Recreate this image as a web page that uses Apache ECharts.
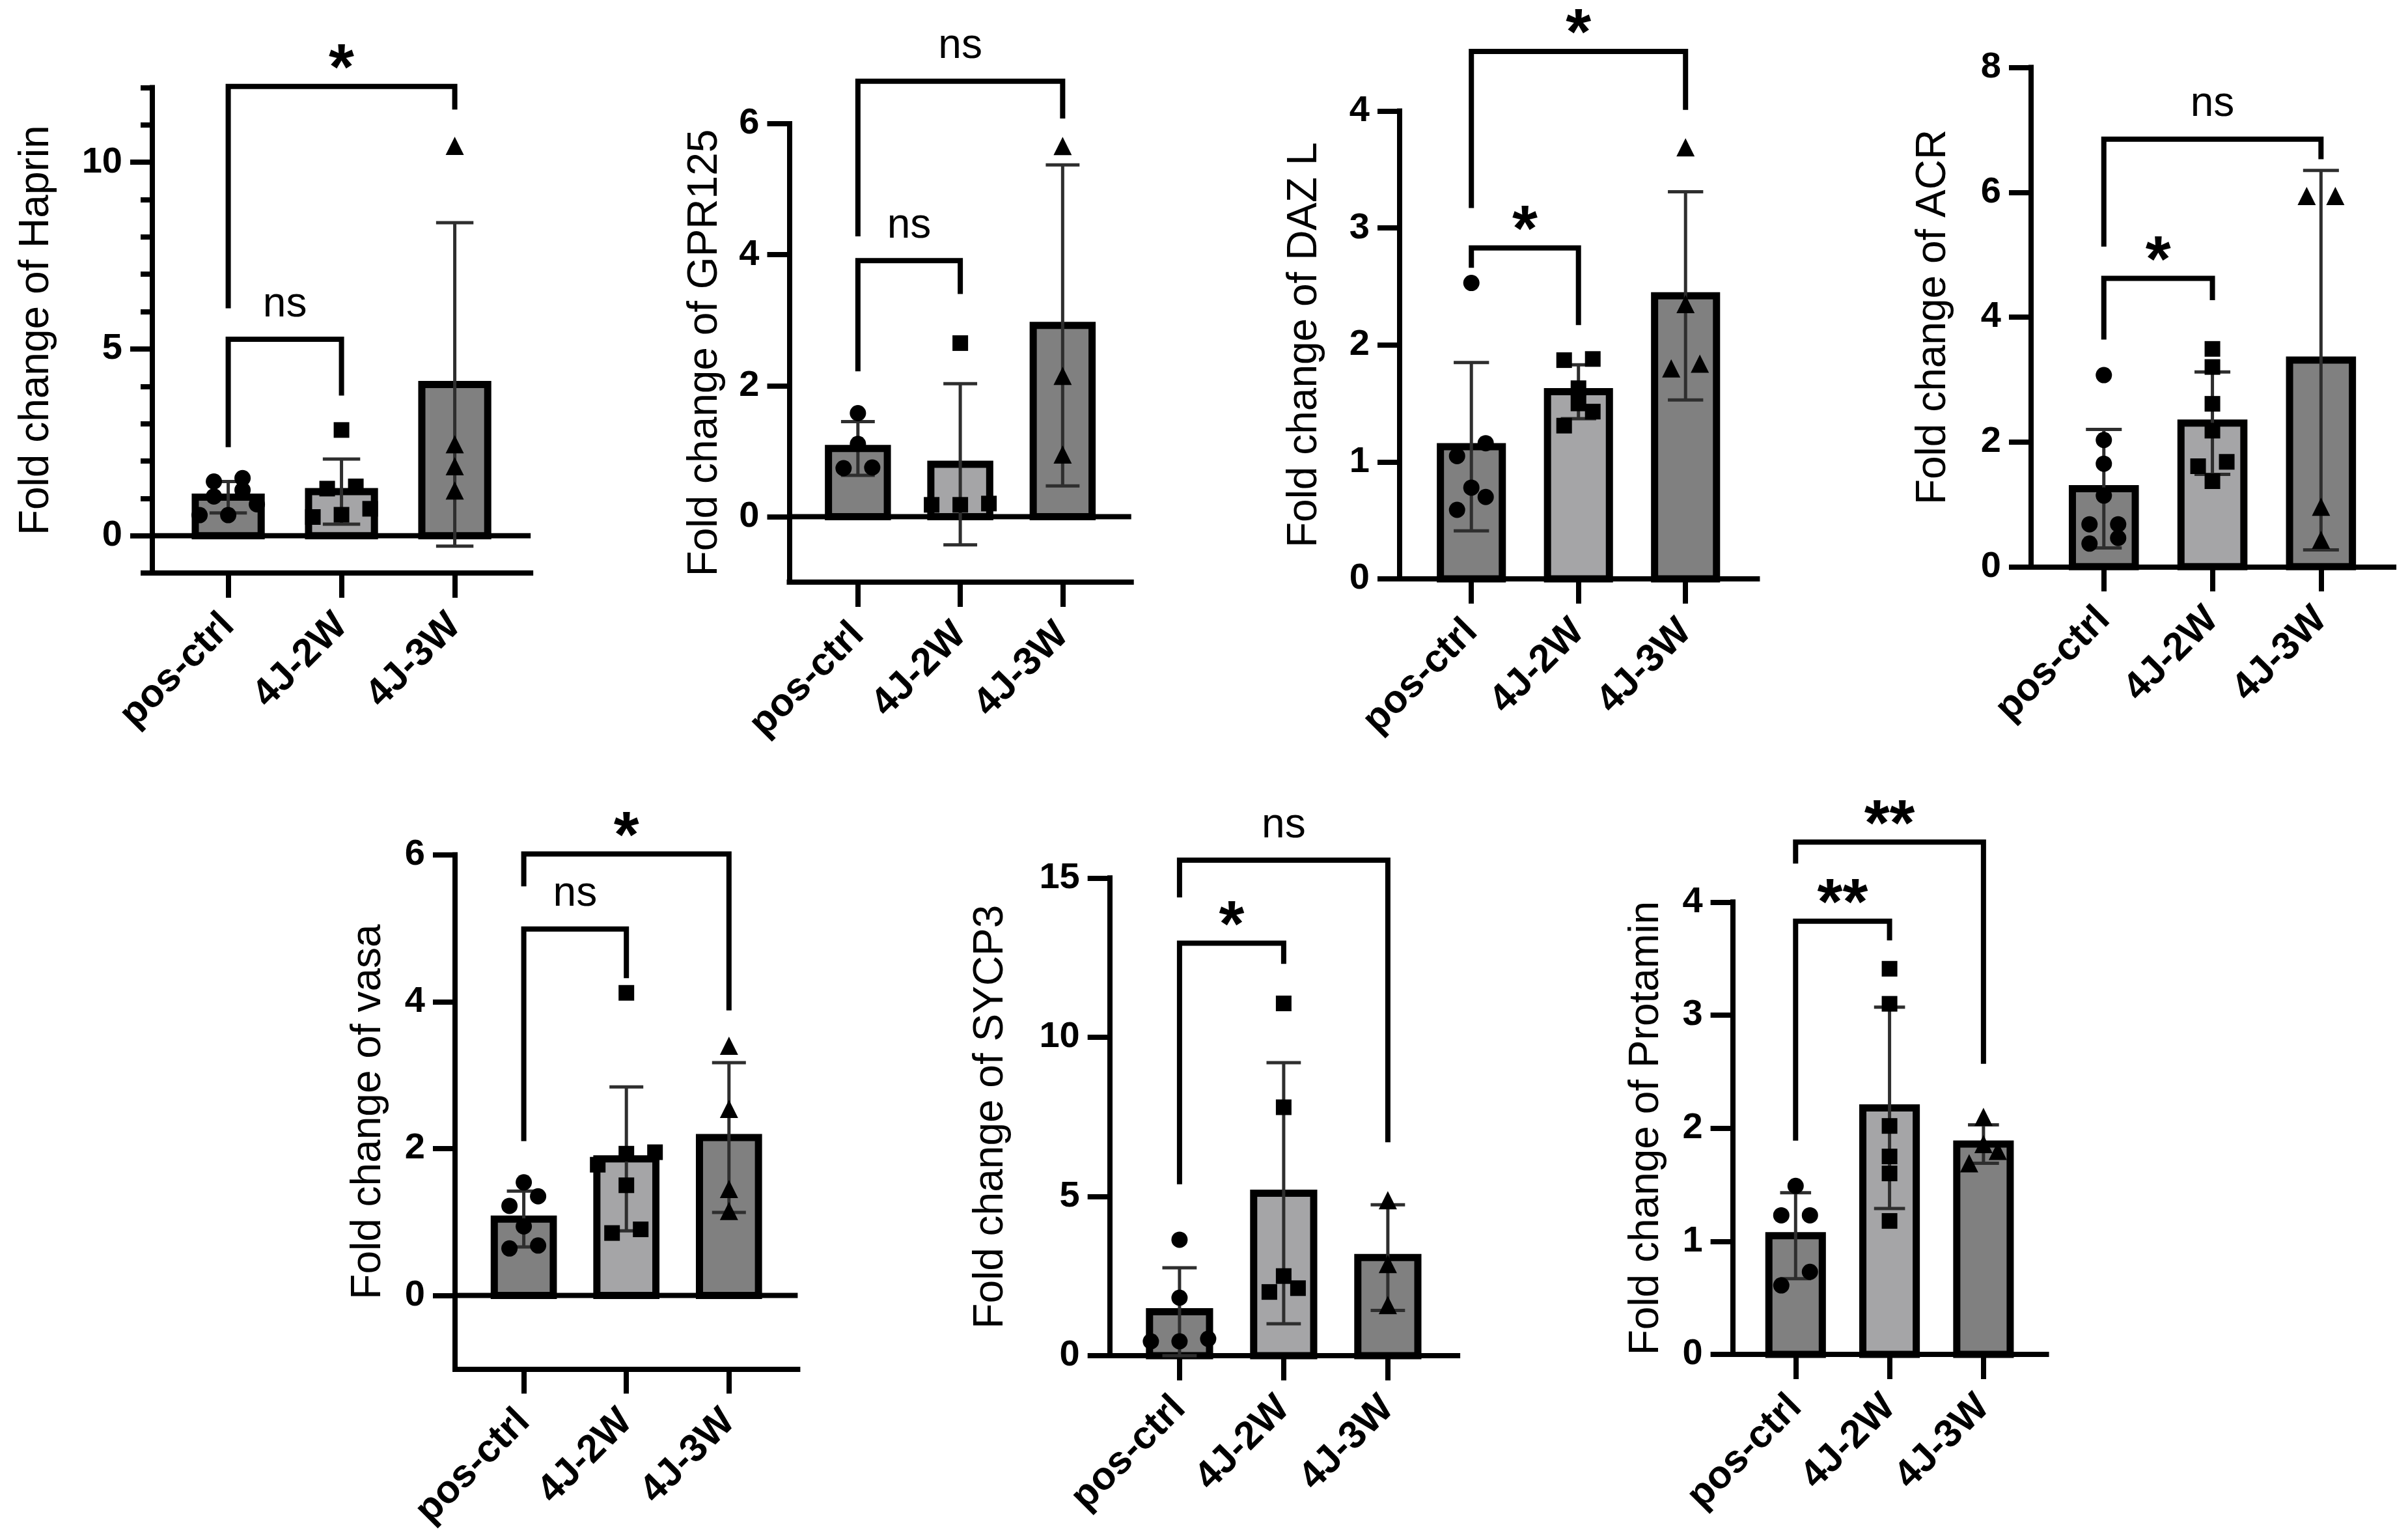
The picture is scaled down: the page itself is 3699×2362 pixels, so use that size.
<!DOCTYPE html>
<html>
<head>
<meta charset="utf-8">
<script src="https://cdn.jsdelivr.net/npm/echarts@6/dist/echarts.min.js"></script>
<style>
  html, body { margin: 0; padding: 0; background: #fff; }
  #chart { width: 3699px; height: 2362px; }
</style>
</head>
<body>
<div id="chart"></div>
<script>
// 分组
const groups = ['pos-ctrl', '4J-2W', '4J-3W']

// Haprin
const haprinMean = [1.03, 1.18, 4.05]
const haprinSd = [0.42, 0.87, 4.33]
const haprinPts = [[1.22, 1.45, 1.54, 1.05, 0.84, 0.55, 0.55], [2.83, 1.32, 1.26, 0.72, 0.5, 0.56], [10.44, 2.45, 1.86, 1.21]]
const haprinSig = [[0, 1, 'ns', 5.26, 2.37, 3.75], [0, 2, '*', 12.03, 6.09, 11.41]]
const haprinTicks = [0, 5, 10]

// GPR125
const gprMean = [1.04, 0.8, 2.92]
const gprSd = [0.41, 1.23, 2.45]
const gprPts = [[1.58, 1.11, 0.74, 0.75], [2.65, 0.18, 0.2, 0.18], [5.66, 2.15, 0.95]]
const gprSig = [[0, 1, 'ns', 3.91, 2.22, 3.4], [0, 2, 'ns', 6.65, 4.28, 6.08]]
const gprTicks = [0, 2, 4, 6]

// DAZ L
const dazMean = [1.13, 1.6, 2.42]
const dazSd = [0.72, 0.23, 0.89]
const dazPts = [[2.53, 1.16, 1.05, 0.78, 0.7, 0.59], [1.87, 1.88, 1.63, 1.5, 1.43, 1.31], [3.69, 2.35, 1.8, 1.84]]
const dazSig = [[0, 1, '*', 2.83, 2.66, 2.17], [0, 2, '*', 4.51, 3.17, 4.01]]
const dazTicks = [0, 1, 2, 3, 4]

// ACR
const acrMean = [1.25, 2.3, 3.31]
const acrSd = [0.95, 0.82, 3.04]
const acrPts = [[3.07, 2.03, 1.65, 1.14, 0.68, 0.68, 0.37, 0.46], [3.49, 3.2, 2.61, 2.18, 1.68, 1.61, 1.37], [5.94, 5.94, 0.96, 0.43]]
const acrSig = [[0, 1, '*', 4.62, 3.64, 4.27], [0, 2, 'ns', 6.85, 5.13, 6.53]]
const acrTicks = [0, 2, 4, 6, 8]

// vasa
const vasaMean = [1.04, 1.86, 2.15]
const vasaSd = [0.38, 0.98, 1.02]
const vasaPts = [[1.54, 1.35, 1.22, 0.94, 0.64, 0.68], [4.12, 1.95, 1.93, 1.78, 1.5, 0.9, 0.85], [3.4, 2.54, 1.45, 1.15]]
const vasaSig = [[0, 1, 'ns', 4.99, 2.1, 4.32], [0, 2, '*', 6.01, 5.57, 3.88]]
const vasaTicks = [0, 2, 4, 6]

// SYCP3
const sycpMean = [1.38, 5.1, 3.08]
const sycpSd = [1.38, 4.1, 1.66]
const sycpPts = [[3.64, 1.82, 0.53, 0.45, 0.45], [11.06, 7.8, 2.5, 2.0, 2.12], [4.88, 2.88, 1.59]]
const sycpSig = [[0, 1, '*', 12.95, 5.38, 12.3], [0, 2, 'ns', 15.56, 14.39, 6.7]]
const sycpTicks = [0, 5, 10, 15]

// Protamin
const protMean = [1.05, 2.18, 1.86]
const protSd = [0.38, 0.89, 0.17]
const protPts = [[1.49, 1.23, 1.23, 0.73, 0.61], [3.41, 3.1, 2.02, 1.75, 1.6, 1.18], [2.1, 1.86, 1.8, 1.69]]
const protSig = [[0, 1, '**', 3.83, 1.89, 3.66], [0, 2, '**', 4.53, 4.34, 2.57]]
const protTicks = [0, 1, 2, 3, 4]

const panels = [
  { title: 'Fold change of Haprin', mean: haprinMean, sd: haprinSd, pts: haprinPts, sig: haprinSig, ticks: haprinTicks, min: -1, max: 12, minor: true },
  { title: 'Fold change of GPR125', mean: gprMean, sd: gprSd, pts: gprPts, sig: gprSig, ticks: gprTicks, min: -1, max: 6 },
  { title: 'Fold change of DAZ L', mean: dazMean, sd: dazSd, pts: dazPts, sig: dazSig, ticks: dazTicks, min: 0, max: 4 },
  { title: 'Fold change of ACR', mean: acrMean, sd: acrSd, pts: acrPts, sig: acrSig, ticks: acrTicks, min: 0, max: 8 },
  { title: 'Fold change of vasa', mean: vasaMean, sd: vasaSd, pts: vasaPts, sig: vasaSig, ticks: vasaTicks, min: -1, max: 6 },
  { title: 'Fold change of SYCP3', mean: sycpMean, sd: sycpSd, pts: sycpPts, sig: sycpSig, ticks: sycpTicks, min: 0, max: 15 },
  { title: 'Fold change of Protamin', mean: protMean, sd: protSd, pts: protPts, sig: protSig, ticks: protTicks, min: 0, max: 4 }
]

// 每个小图的位置（y轴所在x、类别间距、上下边界、标题间距）
const layout = [
  { x: 234, step: 174, top: 134.5, bottom: 880, gap: 146 },
  { x: 1212.5, step: 157.25, top: 190, bottom: 894, gap: 97 },
  { x: 2150, step: 164.5, top: 170.5, bottom: 889, gap: 114 },
  { x: 3120, step: 166.8, top: 103.6, bottom: 870.3, gap: 118 },
  { x: 699, step: 157.6, top: 1312.7, bottom: 2102.3, gap: 101 },
  { x: 1704.7, step: 160, top: 1348.3, bottom: 2082, gap: 150 },
  { x: 2661.6, step: 144.3, top: 1385.3, bottom: 2080, gap: 100 }
]

const FONT = "'Liberation Sans', Arial, sans-serif"
const XMIN = -0.67
const XMAX = 2.67
const BAR_W = 0.645
const CAP_W = 0.33
const BAR_LINE = 11
const AX_W = 8
const fills = ['#808080', '#a5a5a7', '#808080']
const symbols = ['circle', 'rect', 'triangle']
const symbolSizes = [25, 24, 28]

// 同一高度附近的点左右排开
function spread(vals, thr) {
  const idx = vals.map((v, i) => i).sort((a, b) => vals[a] - vals[b])
  const off = new Array(vals.length).fill(0)
  let s = 0
  while (s < idx.length) {
    let e = s
    while (e + 1 < idx.length && vals[idx[e + 1]] - vals[idx[s]] < thr) e++
    const n = e - s + 1
    for (let j = 0; j < n; j++) off[idx[s + j]] = j - (n - 1) / 2
    s = e + 1
  }
  return off
}

const option = {
  backgroundColor: '#fff',
  animation: false,
  grid: [],
  xAxis: [],
  yAxis: [],
  series: []
}

panels.forEach((p, k) => {
  const L = layout[k]
  option.grid.push({
    left: L.x,
    top: L.top,
    width: (XMAX - XMIN) * L.step,
    height: L.bottom - L.top,
    outerBoundsMode: 'none'
  })
  option.xAxis.push({
    gridIndex: k,
    type: 'value',
    min: XMIN,
    max: XMAX,
    axisLine: { show: true, onZero: false, lineStyle: { color: '#000', width: AX_W, cap: 'square' } },
    axisTick: { show: true, length: 38, customValues: [0, 1, 2], lineStyle: { color: '#000', width: AX_W } },
    axisLabel: {
      customValues: [0, 1, 2],
      formatter: (v) => groups[Math.round(v)],
      rotate: 45,
      margin: 72,
      fontSize: 60,
      fontWeight: 'bold',
      fontFamily: FONT,
      color: '#000'
    },
    splitLine: { show: false }
  })
  const yIdx = option.yAxis.length
  option.yAxis.push({
    gridIndex: k,
    type: 'value',
    position: 'left',
    min: p.min,
    max: p.max,
    axisLine: { show: true, onZero: false, lineStyle: { color: '#000', width: AX_W, cap: 'square' } },
    axisTick: { show: true, length: 34, customValues: p.ticks, lineStyle: { color: '#000', width: AX_W } },
    axisLabel: {
      customValues: p.ticks,
      margin: 46,
      fontSize: 56,
      fontWeight: 'bold',
      fontFamily: FONT,
      color: '#000'
    },
    splitLine: { show: false },
    name: p.title,
    nameLocation: 'middle',
    nameRotate: 90,
    nameGap: L.gap,
    nameTextStyle: { fontSize: 64, fontFamily: FONT, color: '#000' }
  })
  if (p.minor) {
    // 次刻度
    option.yAxis.push({
      gridIndex: k,
      type: 'value',
      position: 'left',
      min: p.min,
      max: p.max,
      interval: 1,
      axisLine: { show: false, onZero: false },
      axisTick: { show: true, length: 18, lineStyle: { color: '#000', width: AX_W } },
      axisLabel: { show: false },
      splitLine: { show: false }
    })
  }

  // 零线
  if (p.min < 0) {
    option.series.push({
      type: 'custom',
      xAxisIndex: k,
      yAxisIndex: yIdx,
      z: 1,
      clip: false,
      data: [[0, 0]],
      renderItem: (params, api) => {
        const a = api.coord([XMIN, 0])
        const b = api.coord([XMAX, 0])
        return { type: 'line', shape: { x1: a[0], y1: a[1], x2: b[0], y2: b[1] }, style: { stroke: '#000', lineWidth: AX_W } }
      }
    })
  }

  // 柱子
  option.series.push({
    type: 'custom',
    xAxisIndex: k,
    yAxisIndex: yIdx,
    z: 2,
    clip: false,
    data: p.mean.map((m, i) => [i, m]),
    renderItem: (params, api) => {
      const i = api.value(0)
      const p0 = api.coord([i, 0])
      const p1 = api.coord([i, api.value(1)])
      const w = api.size([BAR_W, 0])[0] - BAR_LINE
      return {
        type: 'rect',
        shape: { x: p1[0] - w / 2, y: p1[1], width: w, height: p0[1] - p1[1] },
        style: { fill: fills[i], stroke: '#000', lineWidth: BAR_LINE }
      }
    }
  })

  // 误差线 (mean ± SD)
  option.series.push({
    type: 'custom',
    xAxisIndex: k,
    yAxisIndex: yIdx,
    z: 3,
    clip: false,
    data: p.mean.map((m, i) => [i, m, p.sd[i]]),
    renderItem: (params, api) => {
      const i = api.value(0)
      const m = api.value(1)
      const s = api.value(2)
      const hi = api.coord([i, m + s])
      const lo = api.coord([i, m - s])
      const cw = api.size([CAP_W, 0])[0] / 2
      const st = { stroke: '#2e2e2e', lineWidth: 5 }
      return {
        type: 'group',
        children: [
          { type: 'line', shape: { x1: hi[0], y1: hi[1], x2: lo[0], y2: lo[1] }, style: st },
          { type: 'line', shape: { x1: hi[0] - cw, y1: hi[1], x2: hi[0] + cw, y2: hi[1] }, style: st },
          { type: 'line', shape: { x1: lo[0] - cw, y1: lo[1], x2: lo[0] + cw, y2: lo[1] }, style: st }
        ]
      }
    }
  })

  // 散点
  const pxPerUnit = (L.bottom - L.top) / (p.max - p.min)
  p.pts.forEach((vals, g) => {
    const off = spread(vals, 22 / pxPerUnit)
    option.series.push({
      type: 'scatter',
      xAxisIndex: k,
      yAxisIndex: yIdx,
      z: 4,
      symbol: symbols[g],
      symbolSize: symbolSizes[g],
      itemStyle: { color: '#000', opacity: 1 },
      data: vals.map((v, j) => ({ value: [g, v], symbolOffset: [off[j] * 44, 0] }))
    })
  })

  // 显著性标注
  option.series.push({
    type: 'custom',
    xAxisIndex: k,
    yAxisIndex: yIdx,
    z: 5,
    clip: false,
    data: p.sig.map((r) => [r[0], r[3]]),
    renderItem: (params, api) => {
      const r = p.sig[params.dataIndex]
      const a = api.coord([r[0], r[3]])
      const b = api.coord([r[1], r[3]])
      const aEnd = api.coord([r[0], r[4]])
      const bEnd = api.coord([r[1], r[5]])
      const star = r[2] !== 'ns'
      return {
        type: 'group',
        children: [
          {
            type: 'polyline',
            shape: { points: [[aEnd[0], aEnd[1]], [a[0], a[1]], [b[0], b[1]], [bEnd[0], bEnd[1]]] },
            style: { stroke: '#000', lineWidth: AX_W, fill: 'none', lineJoin: 'miter' }
          },
          {
            type: 'text',
            style: {
              text: r[2],
              x: (a[0] + b[0]) / 2,
              y: a[1] - (star ? 23 : 53),
              align: 'center',
              verticalAlign: 'middle',
              fontSize: star ? 100 : 64,
              fontWeight: star ? 'bold' : 'normal',
              fontFamily: FONT,
              fill: '#000'
            }
          }
        ]
      }
    }
  })
})

const myChart = echarts.init(document.getElementById('chart'))
myChart.setOption(option)
</script>
</body>
</html>
